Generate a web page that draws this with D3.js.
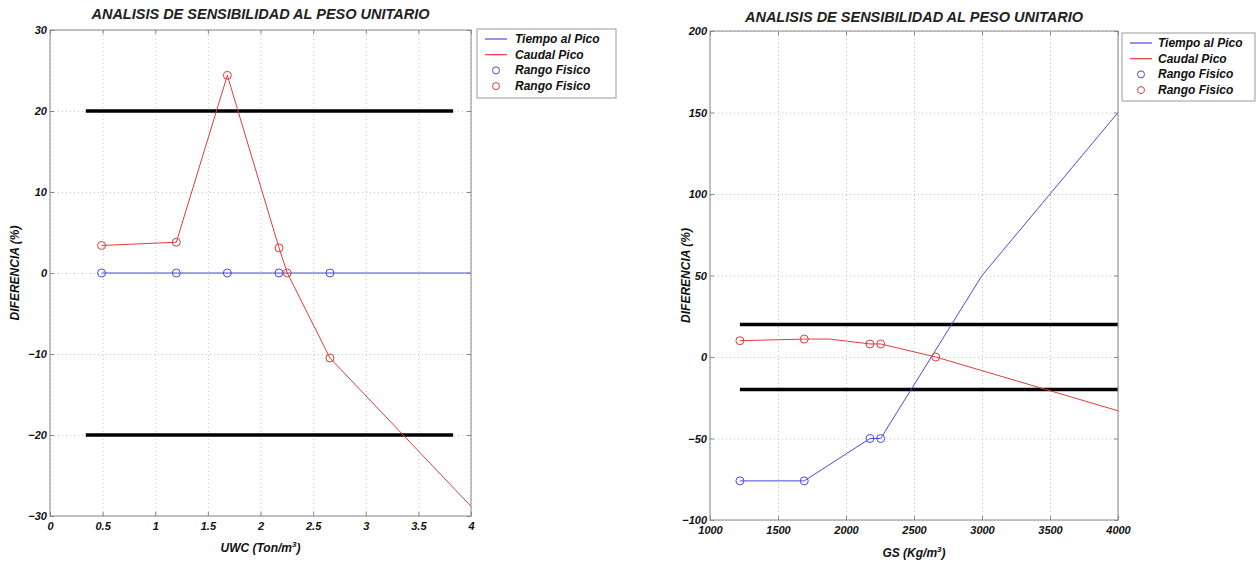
<!DOCTYPE html>
<html>
<head>
<meta charset="utf-8">
<script src="https://cdn.jsdelivr.net/npm/d3@7"></script>
<style>
  body { margin: 0; background: #fff; }
  svg text { font-family: 'Liberation Sans', Arial, sans-serif; font-weight: bold; font-style: italic; }
</style>
</head>
<body>
<svg id="chart" width="1257" height="565"></svg>
<script>
// left panel: UWC (Ton/m3)
const uwcTicks = [0, 0.5, 1, 1.5, 2, 2.5, 3, 3.5, 4];
const uwcYTicks = [-30, -20, -10, 0, 10, 20, 30];
const uwcTiempoX = [0.49, 4];
const uwcTiempoY = [0, 0];
const uwcCaudalX = [0.49, 1.2, 1.685, 2.176, 2.255, 2.66, 4];
const uwcCaudalY = [3.4, 3.8, 24.4, 3.1, 0, -10.5, -28.8];
const uwcRangoTiempoX = [0.49, 1.2, 1.685, 2.176, 2.66];
const uwcRangoTiempoY = [0, 0, 0, 0, 0];
const uwcRangoCaudalX = [0.49, 1.2, 1.685, 2.176, 2.255, 2.66];
const uwcRangoCaudalY = [3.4, 3.8, 24.4, 3.1, 0, -10.5];
const uwcLimitX = [0.34, 3.83];
const uwcLimits = [20, -20];

// right panel: GS (Kg/m3)
const gsTicks = [1000, 1500, 2000, 2500, 3000, 3500, 4000];
const gsYTicks = [-100, -50, 0, 50, 100, 150, 200];
const gsTiempoX = [1220, 1693, 2176, 2255, 3000, 4000];
const gsTiempoY = [-76, -76, -50, -50, 50, 150];
const gsCaudalX = [1220, 1693, 1880, 2176, 2255, 2660, 4000];
const gsCaudalY = [10, 11, 11, 8, 8, 0, -33];
const gsRangoTiempoX = [1220, 1693, 2176, 2255];
const gsRangoTiempoY = [-76, -76, -50, -50];
const gsRangoCaudalX = [1220, 1693, 2176, 2255, 2660];
const gsRangoCaudalY = [10, 11, 8, 8, 0];
const gsLimitX = [1220, 4000];
const gsLimits = [20, -20];

const legendLabels = ['Tiempo al Pico', 'Caudal Pico', 'Rango Fisico', 'Rango Fisico'];
const blue = '#4a4ade', red = '#e03c3c';

const svg = d3.select('#chart');
const zip = (xs, ys) => xs.map((x, i) => [x, ys[i]]);

function drawPanel(p) {
  const width = p.right - p.left, height = p.bottom - p.top;
  const g = svg.append('g').attr('transform', `translate(${p.left},${p.top})`);

  const x = d3.scaleLinear().domain(d3.extent(p.xTicks)).range([0, width]);
  const y = d3.scaleLinear().domain(d3.extent(p.yTicks)).range([height, 0]);

  // dotted grid
  g.append('g')
    .attr('transform', `translate(0,${height})`)
    .call(d3.axisBottom(x).tickValues(p.xTicks).tickSize(-height).tickFormat(''))
    .call(a => a.select('.domain').remove())
    .selectAll('line').attr('stroke', '#c4c4c4').attr('stroke-dasharray', '1,3');
  g.append('g')
    .call(d3.axisLeft(y).tickValues(p.yTicks).tickSize(-width).tickFormat(''))
    .call(a => a.select('.domain').remove())
    .selectAll('line').attr('stroke', '#c4c4c4').attr('stroke-dasharray', '1,3');

  // black limit lines
  p.limits.forEach(v => {
    g.append('line')
      .attr('x1', x(p.limitX[0])).attr('x2', x(p.limitX[1]))
      .attr('y1', y(v)).attr('y2', y(v))
      .attr('stroke', '#000').attr('stroke-width', 3.5);
  });

  const line = d3.line().x(d => x(d[0])).y(d => y(d[1]));
  g.append('path').datum(zip(p.tiempoX, p.tiempoY))
    .attr('d', line).attr('fill', 'none').attr('stroke', blue).attr('stroke-width', 1);
  g.append('path').datum(zip(p.caudalX, p.caudalY))
    .attr('d', line).attr('fill', 'none').attr('stroke', red).attr('stroke-width', 1);

  g.selectAll('circle.rt').data(zip(p.rtX, p.rtY)).enter().append('circle')
    .attr('cx', d => x(d[0])).attr('cy', d => y(d[1])).attr('r', 4)
    .attr('fill', 'none').attr('stroke', blue);
  g.selectAll('circle.rc').data(zip(p.rcX, p.rcY)).enter().append('circle')
    .attr('cx', d => x(d[0])).attr('cy', d => y(d[1])).attr('r', 4)
    .attr('fill', 'none').attr('stroke', red);

  // frame and inward ticks
  g.append('rect').attr('width', width).attr('height', height)
    .attr('fill', 'none').attr('stroke', '#888');
  const axisStyle = a => {
    a.select('.domain').remove();
    a.selectAll('line').attr('stroke', '#888');
    a.selectAll('text').attr('font-size', '11px').attr('fill', '#111');
  };
  g.append('g').attr('transform', `translate(0,${height})`)
    .call(d3.axisBottom(x).tickValues(p.xTicks).tickSize(-4).tickPadding(p.xPad).tickFormat(d3.format('')))
    .call(axisStyle);
  g.append('g')
    .call(d3.axisLeft(y).tickValues(p.yTicks).tickSize(-4).tickPadding(3).tickFormat(d3.format('')))
    .call(axisStyle);
  g.append('g')
    .call(d3.axisTop(x).tickValues(p.xTicks).tickSize(-4).tickFormat(''))
    .call(axisStyle);
  g.append('g').attr('transform', `translate(${width},0)`)
    .call(d3.axisRight(y).tickValues(p.yTicks).tickSize(-4).tickFormat(''))
    .call(axisStyle);

  // title and axis titles
  svg.append('text').attr('x', p.left + width / 2).attr('y', p.titleY)
    .attr('text-anchor', 'middle').attr('font-size', '14.5px').attr('fill', '#222')
    .text('ANALISIS DE SENSIBILIDAD AL PESO UNITARIO');
  const xt = svg.append('text').attr('x', p.left + width / 2).attr('y', p.xTitleY)
    .attr('text-anchor', 'middle').attr('font-size', '12px').attr('fill', '#111');
  xt.append('tspan').text(p.xTitle);
  xt.append('tspan').attr('dy', -5).attr('font-size', '8px').text('3');
  xt.append('tspan').attr('dy', 5).text(')');
  svg.append('text')
    .attr('transform', `translate(${p.yTitleX},${p.top + height / 2}) rotate(-90)`)
    .attr('text-anchor', 'middle').attr('font-size', '12px').attr('fill', '#111')
    .text('DIFERENCIA (%)');

  // legend
  const lg = svg.append('g').attr('transform', `translate(${p.legend.x},${p.legend.y})`);
  lg.append('rect').attr('width', p.legend.w).attr('height', p.legend.h)
    .attr('fill', '#fff').attr('stroke', '#999');
  const colors = [blue, red, blue, red];
  legendLabels.forEach((label, i) => {
    const cy = 10 + i * 15.7;
    if (i < 2) {
      lg.append('line').attr('x1', 8).attr('x2', 30).attr('y1', cy).attr('y2', cy)
        .attr('stroke', colors[i]).attr('stroke-width', 1.2);
    } else {
      lg.append('circle').attr('cx', 19).attr('cy', cy).attr('r', 3.5)
        .attr('fill', 'none').attr('stroke', colors[i]);
    }
    lg.append('text').attr('x', p.legend.tx).attr('y', cy + 4)
      .attr('font-size', '12px').attr('fill', '#111').text(label);
  });
}

drawPanel({
  left: 50, right: 471, top: 30, bottom: 516,
  xTicks: uwcTicks, yTicks: uwcYTicks,
  tiempoX: uwcTiempoX, tiempoY: uwcTiempoY,
  caudalX: uwcCaudalX, caudalY: uwcCaudalY,
  rtX: uwcRangoTiempoX, rtY: uwcRangoTiempoY,
  rcX: uwcRangoCaudalX, rcY: uwcRangoCaudalY,
  limitX: uwcLimitX, limits: uwcLimits,
  titleY: 19, xTitleY: 552, xTitle: 'UWC (Ton/m', yTitleX: 19, xPad: 6,
  legend: { x: 477, y: 29, w: 139, h: 69, tx: 38 }
});

drawPanel({
  left: 710, right: 1118, top: 31, bottom: 520,
  xTicks: gsTicks, yTicks: gsYTicks,
  tiempoX: gsTiempoX, tiempoY: gsTiempoY,
  caudalX: gsCaudalX, caudalY: gsCaudalY,
  rtX: gsRangoTiempoX, rtY: gsRangoTiempoY,
  rcX: gsRangoCaudalX, rcY: gsRangoCaudalY,
  limitX: gsLimitX, limits: gsLimits,
  titleY: 22, xTitleY: 557, xTitle: 'GS (Kg/m', yTitleX: 690, xPad: 6,
  legend: { x: 1122, y: 33, w: 133, h: 68, tx: 36 }
});
</script>
</body>
</html>
